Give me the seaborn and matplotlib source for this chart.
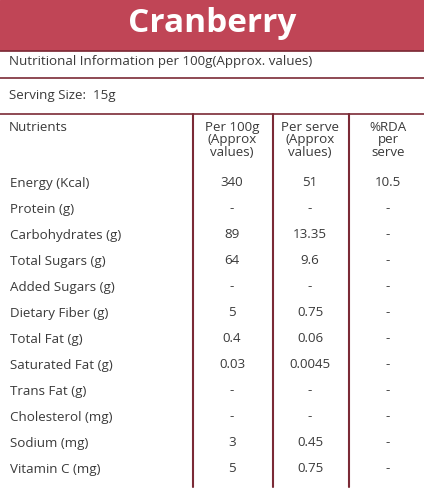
import matplotlib
matplotlib.use("Agg")
import matplotlib.pyplot as plt
import seaborn as sns

title = "Cranberry"
info_line = "Nutritional Information per 100g(Approx. values)"
serving_line = "Serving Size:  15g"
col_headers = ["Nutrients", "Per 100g\n(Approx\nvalues)", "Per serve\n(Approx\nvalues)", "%RDA\nper\nserve"]

nutrients = ["Energy (Kcal)", "Protein (g)", "Carbohydrates (g)", "Total Sugars (g)",
             "Added Sugars (g)", "Dietary Fiber (g)", "Total Fat (g)", "Saturated Fat (g)",
             "Trans Fat (g)", "Cholesterol (mg)", "Sodium (mg)", "Vitamin C (mg)"]
per_100g = ["340", "-", "89", "64", "-", "5", "0.4", "0.03", "-", "-", "3", "5"]
per_serve = ["51", "-", "13.35", "9.6", "-", "0.75", "0.06", "0.0045", "-", "-", "0.45", "0.75"]
rda = ["10.5", "-", "-", "-", "-", "-", "-", "-", "-", "-", "-", "-"]

sns.set_theme(style="white")
plt.rcParams['font.family'] = ['Open Sans', 'DejaVu Sans']

W, H = 424, 500
fig = plt.figure(figsize=(W / 100, H / 100), dpi=100)
ax = fig.add_axes([0, 0, 1, 1])
ax.set_xlim(0, W)
ax.set_ylim(H, 0)
ax.axis("off")

line_col = "#7b2a36"
txt_col = "#3a3a3a"
ax.axhspan(0, 50, color="#c04556")
ax.text(W / 2, 23, title, color="white", fontsize=24, fontweight="bold", ha="center", va="center")

for y in [51, 78, 114]:
    ax.axhline(y, color=line_col, lw=1.2)

ax.text(9, 62, info_line, fontsize=9.6, va="center", color=txt_col)
ax.text(9, 96, serving_line, fontsize=9.6, va="center", color=txt_col)

for x in [193, 273, 349]:
    ax.plot([x, x], [114, 487], color=line_col, lw=1.5)

col_x = [9, 232, 310, 388]
ax.text(col_x[0], 121, col_headers[0], fontsize=9.6, va="top", color=txt_col)
for cx, hdr in zip(col_x[1:], col_headers[1:]):
    ax.text(cx, 121, hdr, fontsize=9.6, va="top", ha="center", color=txt_col, linespacing=0.95)

for i, name in enumerate(nutrients):
    y = 183 + 26 * i
    ax.text(col_x[0] + 1, y, name, fontsize=9.6, va="center", color=txt_col)
    for cx, vals in zip(col_x[1:], [per_100g, per_serve, rda]):
        ax.text(cx, y, vals[i], fontsize=9.6, va="center", ha="center", color=txt_col)

fig.savefig("out.png", dpi=100)
